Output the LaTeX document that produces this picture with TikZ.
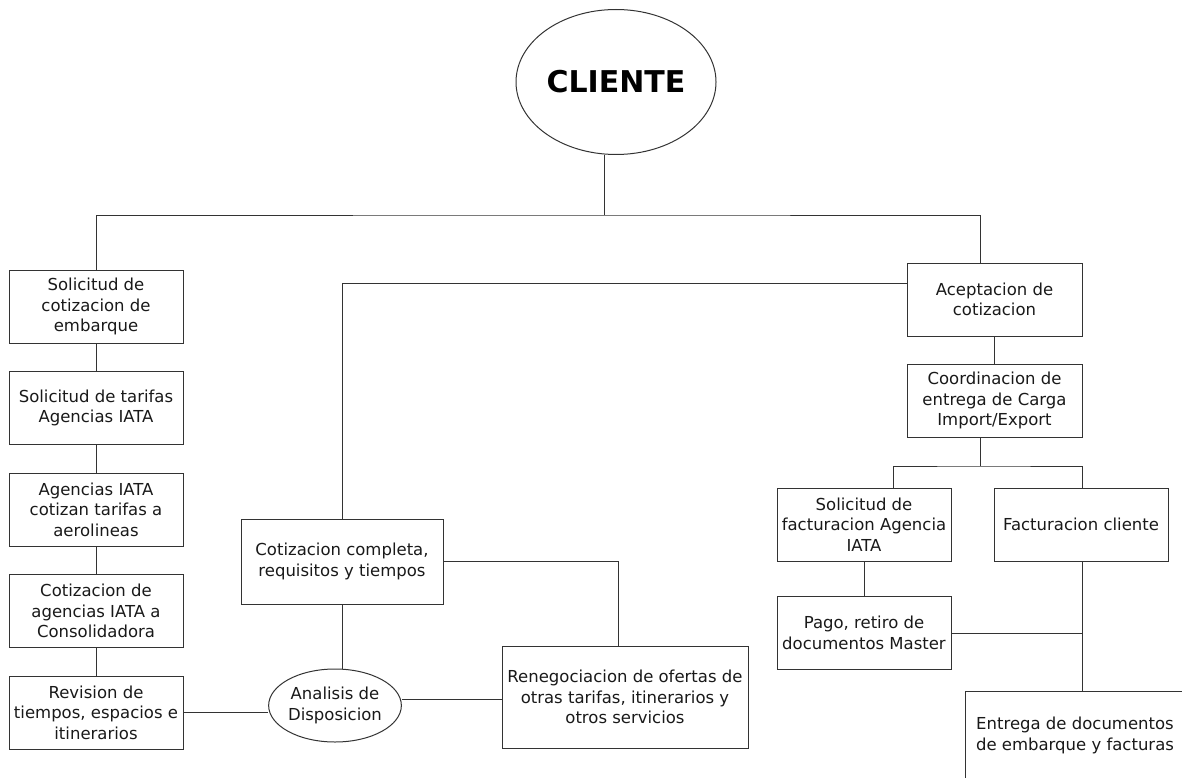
\documentclass[tikz,border=0pt]{standalone}
\usepackage{fontspec}
\setmainfont{DejaVu Sans}
\usetikzlibrary{shapes.geometric}
\newcommand*{\boxw}{174pt}
\newcommand*{\boxh}{73pt}
\newcommand*{\txt}{\fontsize{16.5}{20.5}\selectfont}
\begin{document}
\begin{tikzpicture}[x=1pt, y=-1pt, line width=1pt, draw=black!80,
    every node/.style={font=\txt, align=center, inner sep=0pt, draw=black!80, text=black!90},
    caja/.style={rectangle, minimum width=\boxw, minimum height=\boxh},
    ovalo/.style={ellipse}]
    \useasboundingbox (0,0) rectangle (1182,778);
    \clip (0,0) rectangle (1182,778);
    % cliente
    \node [ovalo, minimum width=200pt, minimum height=145pt, font=\fontsize{30}{36}\selectfont\bfseries, text=black] (cliente) at (616,82) {CLIENTE};
    \coordinate (bus) at (604,215);
    % columna izquierda
    \node [caja] (solcot) at (96,306.5) {Solicitud de\\cotizacion de\\embarque};
    \node [caja] (soltar) at (96,408)   {Solicitud de tarifas\\Agencias IATA};
    \node [caja] (agen)   at (96,509.5) {Agencias IATA\\cotizan tarifas a\\aerolineas};
    \node [caja] (cotag)  at (96,611)   {Cotizacion de\\agencias IATA a\\Consolidadora};
    \node [caja] (revis)  at (96,712.5) {Revision de\\tiempos, espacios e\\itinerarios};
    % centro
    \node [caja, minimum width=202pt, minimum height=85pt] (cotcom) at (342,561.5) {Cotizacion completa,\\requisitos y tiempos};
    \node [ovalo, minimum width=130pt, minimum height=73pt] (analis) at (335,705.5) {Analisis de\\Disposicion};
    \node [caja, minimum width=246pt, minimum height=102pt] (reneg) at (625,697) {Renegociacion de ofertas de\\otras tarifas, itinerarios y\\otros servicios};
    % columna derecha
    \node [caja, minimum width=175pt] (acep)  at (994.5,299.5) {Aceptacion de\\cotizacion};
    \node [caja, minimum width=175pt] (coord) at (994.5,400.5) {Coordinacion de\\entrega de Carga\\Import/Export};
    \coordinate (split) at (980,466);
    \node [caja] (solfac) at (864,524.5)  {Solicitud de\\facturacion Agencia\\IATA};
    \node [caja] (faccli) at (1081,524.5) {Facturacion cliente};
    \node [caja] (pago)   at (864,633)    {Pago, retiro de\\documentos Master};
    \node [caja, minimum width=220pt, minimum height=89pt] (entr) at (1075,735.5) {Entrega de documentos\\de embarque y facturas};

    \draw (bus |- cliente.south) -- (bus);
    \draw (solcot.north) |- (bus) -| ([xshift=-14.5pt]acep.north);
    \draw (solcot) -- (soltar) -- (agen) -- (cotag) -- (revis);
    \draw (revis.east) -- (revis.east -| analis.west);
    \draw ([yshift=6.5pt]analis.east) -- ([yshift=6.5pt]analis.east -| reneg.west);
    \draw (cotcom.south) -- (cotcom.south |- analis.north);
    \draw (cotcom.north) |- (acep.west |- 0,283);
    \draw (cotcom.east) -| ([xshift=-7pt]reneg.north);
    \draw (acep) -- (coord);
    \draw ([xshift=-14.5pt]coord.south) -- (split);
    \draw ([xshift=29pt]solfac.north) |- (split) -| ([xshift=1pt]faccli.north);
    \draw (solfac) -- (pago);
    \draw ([xshift=1pt]faccli.south) -- ([xshift=1pt]faccli.south |- entr.north);
    \draw (pago.east) -- ([xshift=1pt]pago.east -| faccli.south);
\end{tikzpicture}
\end{document}
